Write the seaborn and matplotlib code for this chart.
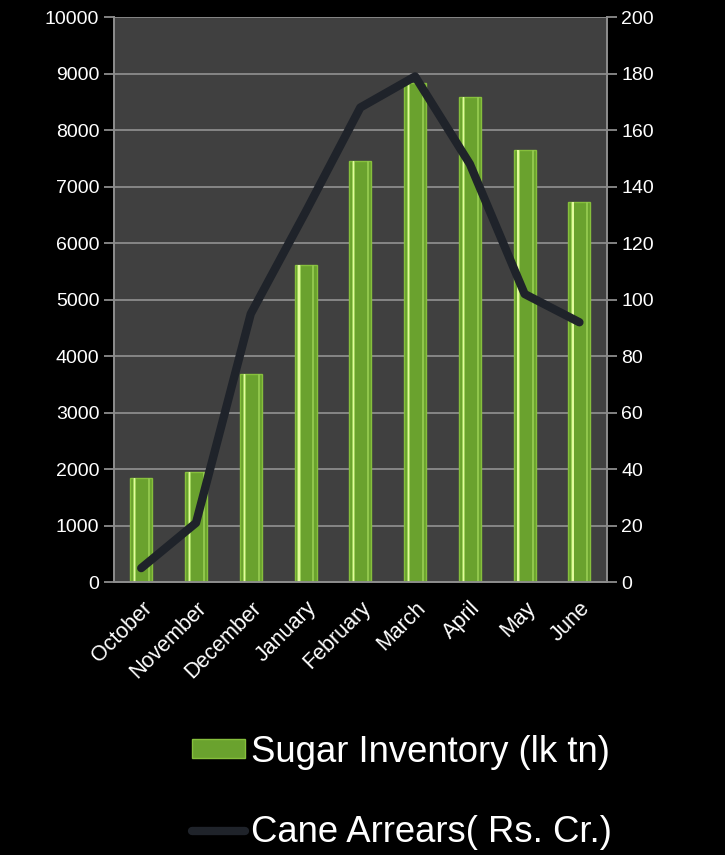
import numpy as np
import pandas as pd
import matplotlib
matplotlib.use("Agg")
import matplotlib.pyplot as plt
import seaborn as sns

# values
months = ["October", "November", "December", "January", "February",
          "March", "April", "May", "June"]
sugar_inventory = [1850, 1950, 3680, 5610, 7450, 8830, 8580, 7650, 6730]
cane_arrears = [5, 21, 95, 131, 168, 179, 148, 102, 92]

df = pd.DataFrame({"month": months, "sugar": sugar_inventory, "arrears": cane_arrears})

sns.set_style("dark")
plt.rcParams["font.family"] = ["Liberation Sans", "DejaVu Sans"]

fig = plt.figure(figsize=(7.25, 8.55), dpi=100, facecolor="black")
ax = fig.add_axes([0.157, 0.319, 0.68, 0.661])
ax.set_facecolor("#404040")

sns.barplot(data=df, x="month", y="sugar", color="#6aa22e", width=0.4,
            edgecolor="#86bf3c", linewidth=1.0, saturation=1, ax=ax, zorder=3,
            legend=False)
bar_handle = ax.patches[0]

# shiny highlight stripes on each bar
for p in list(ax.patches):
    x0, w, h = p.get_x(), p.get_width(), p.get_height()
    ax.bar(x0 + w * 0.2, h, width=w * 0.14, color="#9fd35a", zorder=4, linewidth=0)
    ax.bar(x0 + w * 0.2, h, width=w * 0.06, color="#e2fa9c", zorder=4, linewidth=0)
    ax.bar(x0 + w * 0.86, h, width=w * 0.09, color="#90c64c", zorder=4, linewidth=0)

ax.set_ylim(0, 10000)
ax.set_yticks(range(0, 10001, 1000))
ax.set_xlim(-0.5, len(months) - 0.5)
ax.grid(axis="y", color="#8c8c8c", linewidth=1.3, zorder=0)
ax.grid(axis="x", visible=False)
ax.set_xlabel("")
ax.set_ylabel("")

ax2 = ax.twinx()
sns.lineplot(data=df, x="month", y="arrears", color="#1f232a", linewidth=6,
             ax=ax2, zorder=5, legend=False)
line = ax2.lines[0]
line.set_solid_capstyle("round")
line.set_solid_joinstyle("round")
ax2.set_ylim(0, 200)
ax2.set_yticks(range(0, 201, 20))
ax2.set_ylabel("")
ax2.set_xlim(-0.5, len(months) - 0.5)
ax2.grid(False)

# ticks at category boundaries
ax.set_xticks(np.arange(len(months)), months, rotation=45, ha="right",
              rotation_mode="anchor")
ax.set_xticks(np.arange(-0.5, len(months)), minor=True)
ax.tick_params(axis="x", which="major", length=0, colors="white", labelsize=15.5, pad=11)
ax.tick_params(axis="x", which="minor", length=7, width=1.3, color="#8c8c8c", direction="out")
ax.tick_params(axis="y", colors="white", labelsize=14, length=7, width=1.3,
               direction="out", left=True, color="#8c8c8c")
ax2.tick_params(axis="y", colors="white", labelsize=14, length=7, width=1.3,
                direction="out", right=True, color="#8c8c8c")
for a in (ax, ax2):
    for s in a.spines.values():
        s.set_color("#8c8c8c")
        s.set_linewidth(1.3)
    a.spines["top"].set_visible(False)

fig.legend([bar_handle, line], ["Sugar Inventory (lk tn)", "Cane Arrears( Rs. Cr.)"],
           loc="upper left", bbox_to_anchor=(0.245, 0.158),
           frameon=False, fontsize=26.3, labelcolor="white", labelspacing=1.25,
           handlelength=1.45, handleheight=0.45, handletextpad=0.15, borderaxespad=0)

fig.savefig("out.png", dpi=100, facecolor="black")
